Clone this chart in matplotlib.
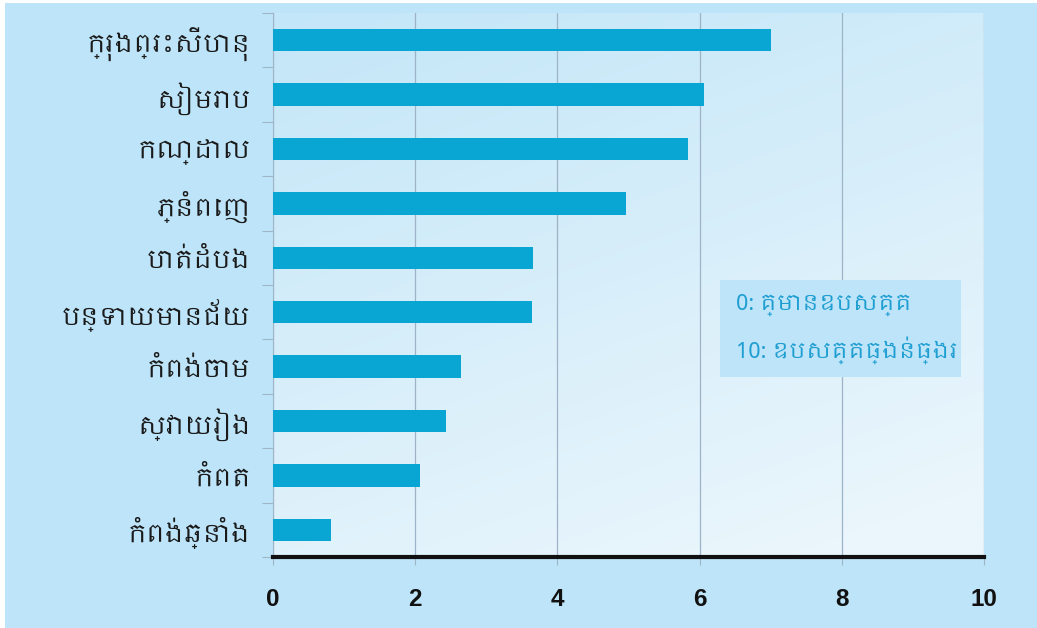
import matplotlib
matplotlib.use("Agg")
import matplotlib.pyplot as plt
from matplotlib import font_manager
from matplotlib.patches import Rectangle
import numpy as np

provinces = ["ក្រុងព្រះសីហនុ", "សៀមរាប", "កណ្ដាល", "ភ្នំពេញ", "បាត់ដំបង",
             "បន្ទាយមានជ័យ", "កំពង់ចាម", "ស្វាយរៀង", "កំពត", "កំពង់ឆ្នាំង"]
scores = [7.0, 6.06, 5.84, 4.97, 3.66, 3.64, 2.64, 2.43, 2.07, 0.81]
xticks = [0, 2, 4, 6, 8, 10]
legend_lines = ["0: គ្មានឧបសគ្គ", "10: ឧបសគ្គធ្ងន់ធ្ងរ"]

# find a Khmer-capable font if one exists
khmer = [f.name for f in font_manager.fontManager.ttflist if "khmer" in f.name.lower()]
fams = (khmer[:1] if khmer else []) + ["DejaVu Sans"]

W, H = 1037, 628
BLUE = "#bde4f8"
fig = plt.figure(figsize=(W / 100, H / 100), dpi=100)
fig.patch.set_facecolor(BLUE)
# small white margin at left/top
fig.add_artist(Rectangle((0, 0), 5 / W, 1, transform=fig.transFigure,
                         facecolor="white", edgecolor="none", zorder=-10))
fig.add_artist(Rectangle((0, 1 - 3 / H), 1, 3 / H, transform=fig.transFigure,
                         facecolor="white", edgecolor="none", zorder=-10))

L, R, T, B = 273, 984, 13, 557
ax = fig.add_axes([L / W, 1 - B / H, (R - L) / W, (B - T) / H])
ax.set_facecolor("none")

# gradient plot area: blue at top, lighter toward bottom-right
gx = np.linspace(0, 1, 200)
gy = np.linspace(0, 1, 200)
GX, GY = np.meshgrid(gx, gy)  # GY=0 at top row (origin upper)
t = np.clip(0.35 * GX + 0.75 * GY, 0, 1)
c0 = np.array([0xc3, 0xe6, 0xf8]) / 255
c1 = np.array([0xea, 0xf6, 0xfc]) / 255
img = c0[None, None, :] * (1 - t[..., None]) + c1[None, None, :] * t[..., None]
ax.imshow(img, extent=[0, 10, -0.5, len(provinces) - 0.5], aspect="auto",
          origin="upper", zorder=0)

y = np.arange(len(provinces))[::-1]
ax.barh(y, scores, height=0.41, color="#0aa6d3", zorder=3)

ax.set_xlim(0, 10)
ax.set_ylim(-0.5, len(provinces) - 0.5)
ax.set_xticks(xticks)
ax.set_xticklabels([str(v) for v in xticks], fontsize=17.5, fontweight="bold",
                   family="Liberation Sans", color="#111111")
ax.tick_params(axis="x", length=6, width=0.8, color="#9fb5c8", pad=16)
ax.grid(axis="x", color="#9fb3c8", linewidth=0.9, zorder=1)

ax.set_yticks(y)
ax.set_yticklabels(provinces, fontsize=18, family=fams, color="#1a1a1a")
ax.tick_params(axis="y", length=0, pad=16)
ax.set_yticks(np.arange(-0.5, len(provinces), 1), minor=True)
ax.tick_params(axis="y", which="minor", length=8, width=0.8, color="#9fb5c8")

for s in ["top", "right"]:
    ax.spines[s].set_visible(False)
ax.spines["left"].set_color("#9fb5c8")
ax.spines["left"].set_linewidth(0.8)
ax.spines["bottom"].set_color("#111111")
ax.spines["bottom"].set_linewidth(3)
ax.spines["bottom"].set_zorder(5)

# legend box
bx0, by0, bx1, by1 = 720, 280, 961, 377
fig.add_artist(Rectangle((bx0 / W, 1 - by1 / H), (bx1 - bx0) / W, (by1 - by0) / H,
                         transform=fig.transFigure, facecolor=BLUE,
                         edgecolor="none", zorder=4))
fig.text(736 / W, 1 - 305 / H, legend_lines[0], fontsize=16, color="#1f9ed2",
         family=fams, va="center", ha="left", zorder=5)
fig.text(736 / W, 1 - 350 / H, legend_lines[1], fontsize=16, color="#1f9ed2",
         family=fams, va="center", ha="left", zorder=5)

fig.savefig("out.png", dpi=100, facecolor=fig.get_facecolor())
